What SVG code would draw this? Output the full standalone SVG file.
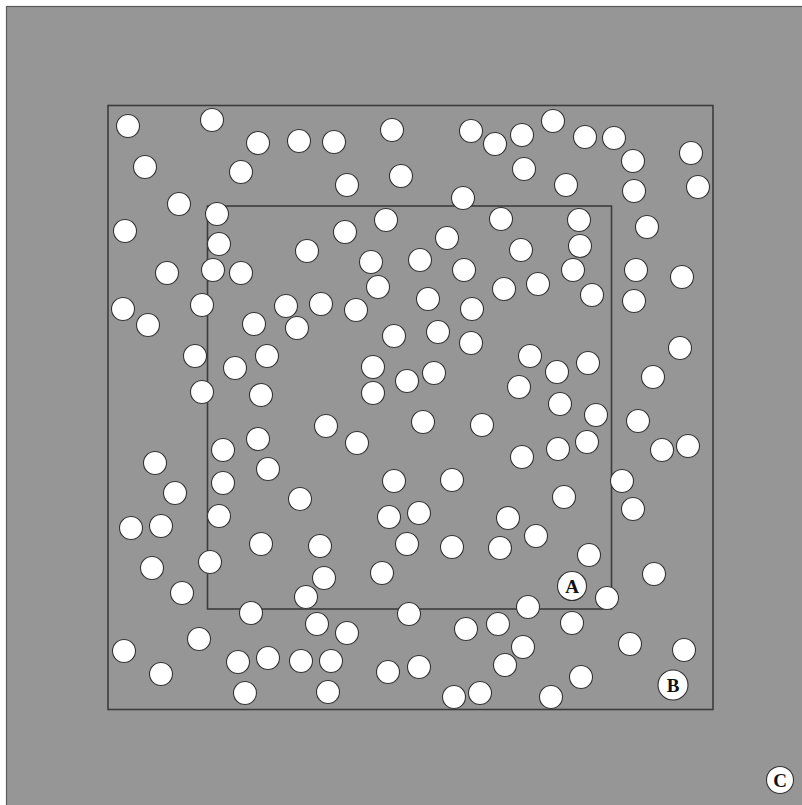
<svg xmlns="http://www.w3.org/2000/svg" width="802" height="805" viewBox="0 0 802 805">
<style>
.bg{fill:#969696;stroke:#5a5a5a;stroke-width:1.2}
.sq{fill:none;stroke:#3c3c3c;stroke-width:1.6}
.p{fill:#ffffff;stroke:#333333;stroke-width:1.1}
.lbl{font-family:"Liberation Serif","DejaVu Serif",serif;font-weight:bold;font-size:19px;fill:#111;text-anchor:middle}
</style>
<rect x="0" y="0" width="802" height="805" fill="#ffffff"/>
<rect class="bg" x="6.5" y="6.5" width="800" height="805"/>
<rect id="outer" class="sq" x="108" y="105.5" width="605" height="604"/>
<rect id="inner" class="sq" x="207.5" y="206" width="404" height="403"/>
<g id="particles">
<circle class="p" cx="128" cy="126" r="11.5"/>
<circle class="p" cx="212" cy="120" r="11.5"/>
<circle class="p" cx="258" cy="143" r="11.5"/>
<circle class="p" cx="299" cy="141" r="11.5"/>
<circle class="p" cx="334" cy="142" r="11.5"/>
<circle class="p" cx="392" cy="130" r="11.5"/>
<circle class="p" cx="471" cy="131" r="11.5"/>
<circle class="p" cx="495" cy="144" r="11.5"/>
<circle class="p" cx="522" cy="135" r="11.5"/>
<circle class="p" cx="553" cy="121" r="11.5"/>
<circle class="p" cx="585" cy="137" r="11.5"/>
<circle class="p" cx="614" cy="138" r="11.5"/>
<circle class="p" cx="633" cy="161" r="11.5"/>
<circle class="p" cx="691" cy="153" r="11.5"/>
<circle class="p" cx="145" cy="167" r="11.5"/>
<circle class="p" cx="241" cy="172" r="11.5"/>
<circle class="p" cx="347" cy="185" r="11.5"/>
<circle class="p" cx="401" cy="176" r="11.5"/>
<circle class="p" cx="524" cy="169" r="11.5"/>
<circle class="p" cx="566" cy="185" r="11.5"/>
<circle class="p" cx="634" cy="191" r="11.5"/>
<circle class="p" cx="698" cy="187" r="11.5"/>
<circle class="p" cx="179" cy="204" r="11.5"/>
<circle class="p" cx="217" cy="214" r="11.5"/>
<circle class="p" cx="463" cy="198" r="11.5"/>
<circle class="p" cx="386" cy="220" r="11.5"/>
<circle class="p" cx="501" cy="219" r="11.5"/>
<circle class="p" cx="579" cy="220" r="11.5"/>
<circle class="p" cx="647" cy="227" r="11.5"/>
<circle class="p" cx="125" cy="231" r="11.5"/>
<circle class="p" cx="219" cy="244" r="11.5"/>
<circle class="p" cx="307" cy="251" r="11.5"/>
<circle class="p" cx="345" cy="232" r="11.5"/>
<circle class="p" cx="447" cy="238" r="11.5"/>
<circle class="p" cx="521" cy="250" r="11.5"/>
<circle class="p" cx="580" cy="246" r="11.5"/>
<circle class="p" cx="167" cy="273" r="11.5"/>
<circle class="p" cx="213" cy="270" r="11.5"/>
<circle class="p" cx="241" cy="273" r="11.5"/>
<circle class="p" cx="371" cy="262" r="11.5"/>
<circle class="p" cx="420" cy="260" r="11.5"/>
<circle class="p" cx="464" cy="270" r="11.5"/>
<circle class="p" cx="573" cy="270" r="11.5"/>
<circle class="p" cx="636" cy="270" r="11.5"/>
<circle class="p" cx="682" cy="277" r="11.5"/>
<circle class="p" cx="378" cy="287" r="11.5"/>
<circle class="p" cx="504" cy="289" r="11.5"/>
<circle class="p" cx="538" cy="284" r="11.5"/>
<circle class="p" cx="592" cy="295" r="11.5"/>
<circle class="p" cx="123" cy="309" r="11.5"/>
<circle class="p" cx="202" cy="305" r="11.5"/>
<circle class="p" cx="286" cy="306" r="11.5"/>
<circle class="p" cx="321" cy="304" r="11.5"/>
<circle class="p" cx="356" cy="310" r="11.5"/>
<circle class="p" cx="428" cy="299" r="11.5"/>
<circle class="p" cx="472" cy="309" r="11.5"/>
<circle class="p" cx="634" cy="301" r="11.5"/>
<circle class="p" cx="148" cy="325" r="11.5"/>
<circle class="p" cx="254" cy="324" r="11.5"/>
<circle class="p" cx="297" cy="328" r="11.5"/>
<circle class="p" cx="394" cy="336" r="11.5"/>
<circle class="p" cx="438" cy="332" r="11.5"/>
<circle class="p" cx="471" cy="343" r="11.5"/>
<circle class="p" cx="680" cy="348" r="11.5"/>
<circle class="p" cx="195" cy="356" r="11.5"/>
<circle class="p" cx="267" cy="356" r="11.5"/>
<circle class="p" cx="373" cy="367" r="11.5"/>
<circle class="p" cx="407" cy="381" r="11.5"/>
<circle class="p" cx="434" cy="373" r="11.5"/>
<circle class="p" cx="530" cy="356" r="11.5"/>
<circle class="p" cx="557" cy="372" r="11.5"/>
<circle class="p" cx="588" cy="363" r="11.5"/>
<circle class="p" cx="653" cy="377" r="11.5"/>
<circle class="p" cx="235" cy="368" r="11.5"/>
<circle class="p" cx="202" cy="392" r="11.5"/>
<circle class="p" cx="261" cy="395" r="11.5"/>
<circle class="p" cx="373" cy="393" r="11.5"/>
<circle class="p" cx="519" cy="387" r="11.5"/>
<circle class="p" cx="560" cy="404" r="11.5"/>
<circle class="p" cx="596" cy="415" r="11.5"/>
<circle class="p" cx="638" cy="421" r="11.5"/>
<circle class="p" cx="326" cy="426" r="11.5"/>
<circle class="p" cx="357" cy="443" r="11.5"/>
<circle class="p" cx="423" cy="422" r="11.5"/>
<circle class="p" cx="482" cy="425" r="11.5"/>
<circle class="p" cx="258" cy="439" r="11.5"/>
<circle class="p" cx="223" cy="450" r="11.5"/>
<circle class="p" cx="558" cy="449" r="11.5"/>
<circle class="p" cx="587" cy="442" r="11.5"/>
<circle class="p" cx="662" cy="450" r="11.5"/>
<circle class="p" cx="688" cy="446" r="11.5"/>
<circle class="p" cx="155" cy="463" r="11.5"/>
<circle class="p" cx="268" cy="469" r="11.5"/>
<circle class="p" cx="522" cy="457" r="11.5"/>
<circle class="p" cx="175" cy="493" r="11.5"/>
<circle class="p" cx="223" cy="483" r="11.5"/>
<circle class="p" cx="300" cy="499" r="11.5"/>
<circle class="p" cx="394" cy="481" r="11.5"/>
<circle class="p" cx="452" cy="480" r="11.5"/>
<circle class="p" cx="564" cy="497" r="11.5"/>
<circle class="p" cx="622" cy="481" r="11.5"/>
<circle class="p" cx="633" cy="509" r="11.5"/>
<circle class="p" cx="131" cy="528" r="11.5"/>
<circle class="p" cx="161" cy="526" r="11.5"/>
<circle class="p" cx="219" cy="516" r="11.5"/>
<circle class="p" cx="389" cy="517" r="11.5"/>
<circle class="p" cx="419" cy="513" r="11.5"/>
<circle class="p" cx="508" cy="518" r="11.5"/>
<circle class="p" cx="536" cy="536" r="11.5"/>
<circle class="p" cx="261" cy="544" r="11.5"/>
<circle class="p" cx="320" cy="546" r="11.5"/>
<circle class="p" cx="407" cy="544" r="11.5"/>
<circle class="p" cx="452" cy="547" r="11.5"/>
<circle class="p" cx="500" cy="548" r="11.5"/>
<circle class="p" cx="589" cy="555" r="11.5"/>
<circle class="p" cx="152" cy="568" r="11.5"/>
<circle class="p" cx="210" cy="562" r="11.5"/>
<circle class="p" cx="324" cy="578" r="11.5"/>
<circle class="p" cx="382" cy="573" r="11.5"/>
<circle class="p" cx="654" cy="574" r="11.5"/>
<circle class="p" cx="182" cy="593" r="11.5"/>
<circle class="p" cx="306" cy="597" r="11.5"/>
<circle class="p" cx="607" cy="598" r="11.5"/>
<circle class="p" cx="251" cy="613" r="11.5"/>
<circle class="p" cx="317" cy="624" r="11.5"/>
<circle class="p" cx="347" cy="633" r="11.5"/>
<circle class="p" cx="409" cy="614" r="11.5"/>
<circle class="p" cx="528" cy="607" r="11.5"/>
<circle class="p" cx="466" cy="629" r="11.5"/>
<circle class="p" cx="498" cy="624" r="11.5"/>
<circle class="p" cx="572" cy="623" r="11.5"/>
<circle class="p" cx="199" cy="639" r="11.5"/>
<circle class="p" cx="124" cy="651" r="11.5"/>
<circle class="p" cx="630" cy="644" r="11.5"/>
<circle class="p" cx="684" cy="650" r="11.5"/>
<circle class="p" cx="161" cy="674" r="11.5"/>
<circle class="p" cx="238" cy="662" r="11.5"/>
<circle class="p" cx="268" cy="658" r="11.5"/>
<circle class="p" cx="301" cy="661" r="11.5"/>
<circle class="p" cx="331" cy="661" r="11.5"/>
<circle class="p" cx="388" cy="672" r="11.5"/>
<circle class="p" cx="419" cy="667" r="11.5"/>
<circle class="p" cx="505" cy="665" r="11.5"/>
<circle class="p" cx="523" cy="647" r="11.5"/>
<circle class="p" cx="581" cy="677" r="11.5"/>
<circle class="p" cx="245" cy="693" r="11.5"/>
<circle class="p" cx="328" cy="692" r="11.5"/>
<circle class="p" cx="454" cy="697" r="11.5"/>
<circle class="p" cx="480" cy="693" r="11.5"/>
<circle class="p" cx="551" cy="697" r="11.5"/>
</g>
<g id="A">
<circle class="p" cx="572" cy="586" r="14.5"/>
<text class="lbl" x="572" y="592.5">A</text>
</g>
<g id="B">
<circle class="p" cx="673" cy="685" r="15"/>
<text class="lbl" x="673" y="691.5">B</text>
</g>
<g id="C">
<circle class="p" cx="780" cy="780" r="13.5"/>
<text class="lbl" x="780" y="786.5">C</text>
</g>
</svg>
